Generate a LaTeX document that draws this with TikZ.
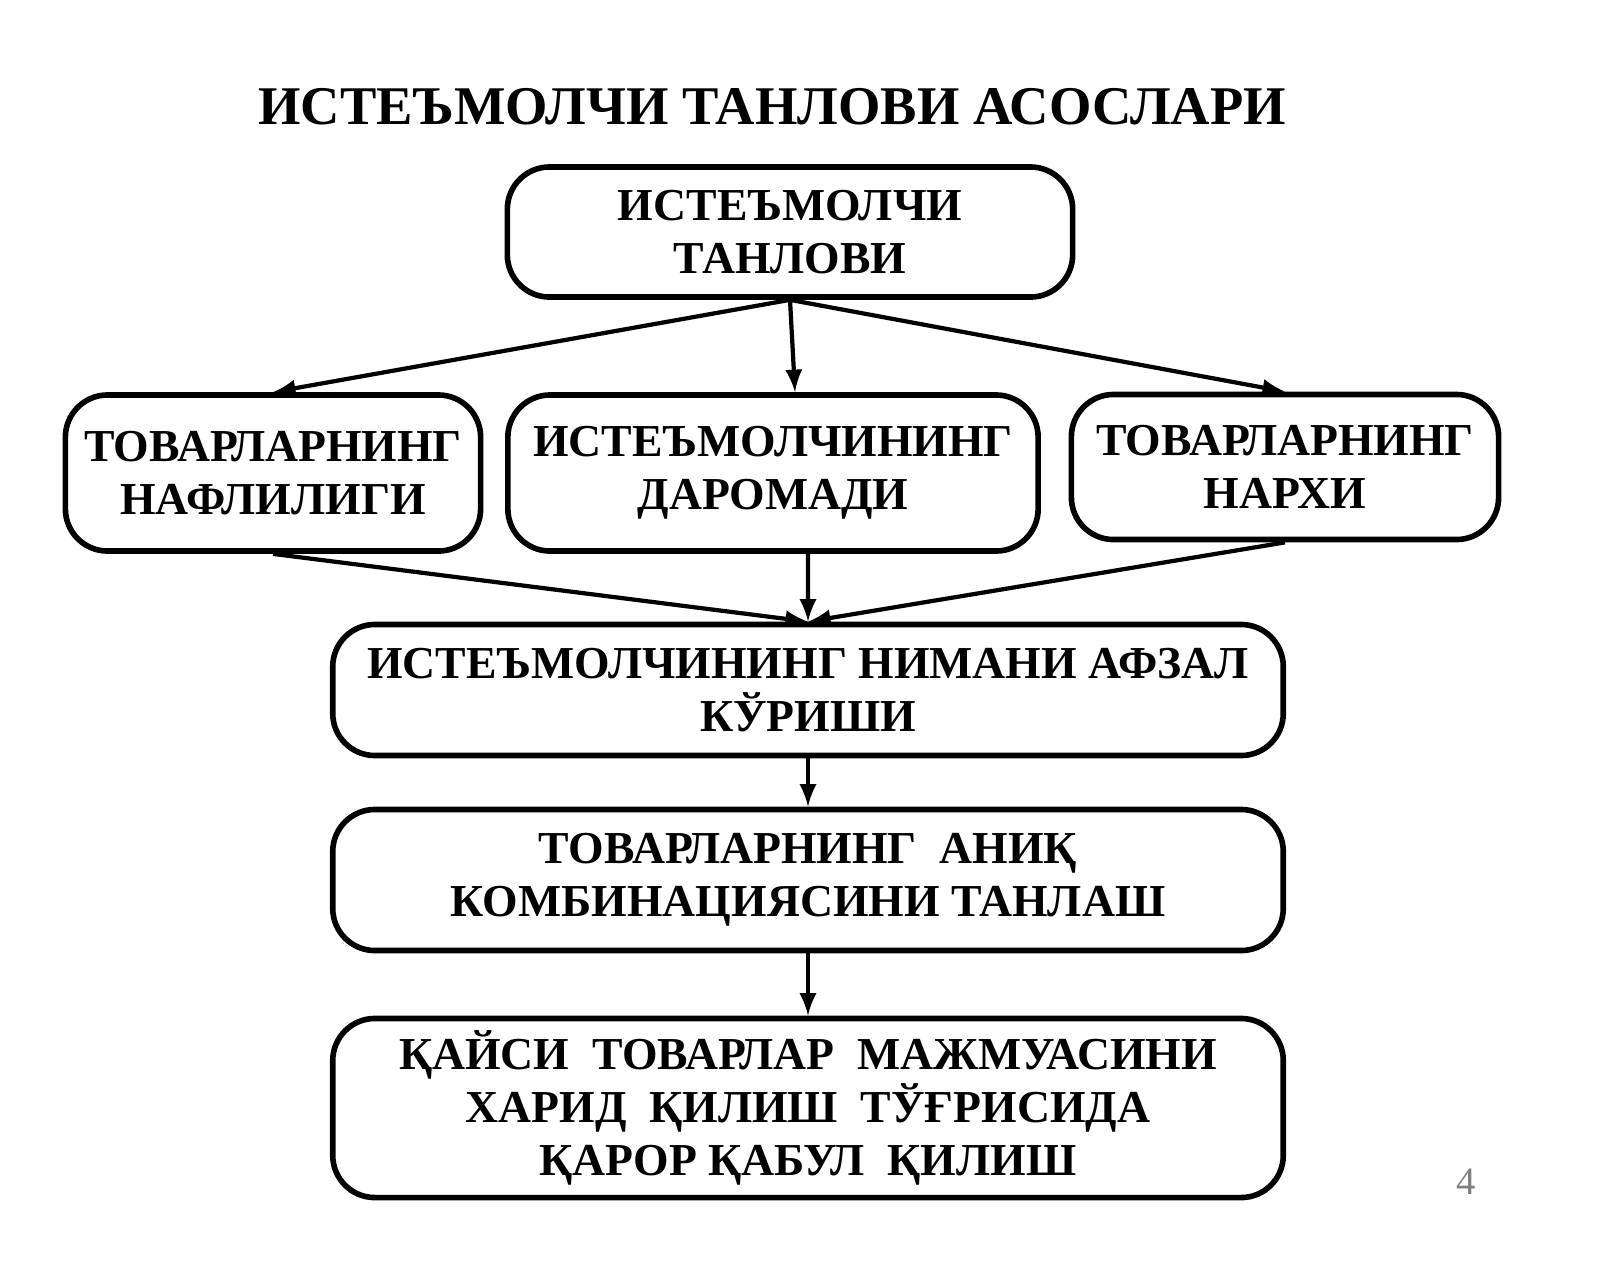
\documentclass[tikz,border=0pt]{standalone}
\usepackage{fontspec}
\setmainfont{Liberation Serif}
\usetikzlibrary{positioning}
\begin{document}
\begin{tikzpicture}[x=0.01cm, y=-0.01cm, >=latex, line width=1.2pt,
	box/.style={draw, line width=1.6pt, rounded corners=12pt, align=center,
		font=\bfseries\fontsize{13}{15}\selectfont}]
	\useasboundingbox (0,0) rectangle (1600,1266);
	\node[font=\bfseries\fontsize{15.5}{18}\selectfont] (title) at (772,107) {ИСТЕЪМОЛЧИ ТАНЛОВИ АСОСЛАРИ};
	\node[box, minimum width=5.65cm, minimum height=1.3cm]  (choice) at (790,232) {ИСТЕЪМОЛЧИ\\ТАНЛОВИ};
	\node[box, minimum width=4.15cm, minimum height=1.56cm] (util)   at (273,473) {ТОВАРЛАРНИНГ\\НАФЛИЛИГИ};
	\node[box, minimum width=5.3cm, minimum height=1.56cm]  (income) at (773,473) {ИСТЕЪМОЛЧИНИНГ\\ДАРОМАДИ};
	\node[box, minimum width=4.27cm, minimum height=1.45cm] (price)  at (1285,467) {ТОВАРЛАРНИНГ\\НАРХИ};
	\node[box, minimum width=9.5cm, minimum height=1.31cm]  (pref)   at (808,690) {ИСТЕЪМОЛЧИНИНГ НИМАНИ АФЗАЛ\\КЎРИШИ};
	\node[box, minimum width=9.5cm, minimum height=1.41cm]  (combo)  at (808,880) {ТОВАРЛАРНИНГ\ \ АНИҚ\\КОМБИНАЦИЯСИНИ ТАНЛАШ};
	\node[box, minimum width=9.5cm, minimum height=1.79cm]  (decide) at (808,1108) {ҚАЙСИ\ \ ТОВАРЛАР\ \ МАЖМУАСИНИ\\ХАРИД\ \ ҚИЛИШ\ \ ТЎҒРИСИДА\\ҚАРОР ҚАБУЛ\ \ ҚИЛИШ};
	\node[text=gray, font=\fontsize{11}{13}\selectfont] (page) at (1466,1182) {4};

	\draw[->] (choice.south) -- (util.north);
	\draw[->] (choice.south) -- ([xshift=0.22cm]income.north);
	\draw[->] (choice.south) -- (price.north);
	\draw[->] (util.south) -- (pref.north);
	\draw[->] ([xshift=0.35cm]income.south) -- (pref.north);
	\draw[->] (price.south) -- (pref.north);
	\draw[->] (pref) -- (combo);
	\draw[->] (combo) -- (decide);
\end{tikzpicture}
\end{document}
